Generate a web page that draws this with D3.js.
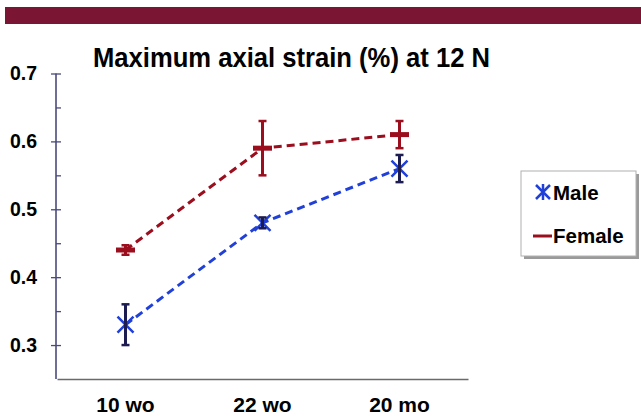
<!DOCTYPE html>
<html>
<head>
<meta charset="utf-8">
<script src="https://cdn.jsdelivr.net/npm/d3@7"></script>
<style>
  body { margin: 0; background: #fff; }
  svg { font-family: "Liberation Sans", Arial, sans-serif; }
</style>
</head>
<body>
<script>
// chart values
var categories = ["10 wo", "22 wo", "20 mo"];
var maleMean = [0.33, 0.48, 0.56];
var maleErr = [0.03, 0.008, 0.02];
var femaleMean = [0.44, 0.59, 0.61];
var femaleErr = [0.007, 0.04, 0.02];
var yTicks = [0.3, 0.4, 0.5, 0.6, 0.7];
var yMinor = [0.35, 0.45, 0.55, 0.65];

var W = 641, H = 416;
var maleColor = "#2040d8", maleBar = "#1c1c50";
var femaleColor = "#9a0e1e";

var svg = d3.select("body").append("svg")
  .attr("width", W)
  .attr("height", H);

// banner at the top
svg.append("rect")
  .attr("x", 5).attr("y", 7)
  .attr("width", 636).attr("height", 17)
  .attr("fill", "#7a1533");

var x = d3.scaleBand()
  .domain(categories)
  .range([57, 468]);

var y = d3.scaleLinear()
  .domain([0.25, 0.7])
  .range([379, 73.5]);

// title
svg.append("text")
  .attr("x", 93).attr("y", 67)
  .attr("font-size", 27)
  .attr("font-weight", "bold")
  .attr("textLength", 397)
  .attr("lengthAdjust", "spacingAndGlyphs")
  .text("Maximum axial strain (%) at 12 N");

// y axis: labels + left half of ticks
var yLeft = svg.append("g")
  .attr("transform", "translate(56,0)")
  .call(d3.axisLeft(y).tickValues(yTicks).tickSize(5).tickPadding(14).tickFormat(d3.format(".1f")));
yLeft.select(".domain").remove();
yLeft.selectAll("text").attr("font-size", 19.5).attr("font-weight", "bold").attr("fill", "#000")
  .attr("font-family", "Liberation Sans, Arial, sans-serif");

var yRight = svg.append("g")
  .attr("transform", "translate(56,0)")
  .call(d3.axisRight(y).tickValues(yTicks.concat(yMinor)).tickSize(5).tickFormat(""));
yRight.select(".domain").remove();

svg.selectAll(".tick line").attr("stroke", "#4a4a7c").attr("stroke-width", 1.3);

svg.append("line")
  .attr("x1", 56).attr("x2", 56)
  .attr("y1", y(0.7)).attr("y2", y(0.25))
  .attr("stroke", "#4a4a7c").attr("stroke-width", 1.6);

// x axis
var xAxis = svg.append("g")
  .attr("transform", "translate(0," + y(0.25) + ")")
  .call(d3.axisBottom(x).tickSize(0));
xAxis.select(".domain").attr("stroke", "#6a6a6a").attr("stroke-width", 1.6);
xAxis.selectAll("text")
  .attr("y", 33).attr("dy", 0)
  .attr("font-size", 21).attr("font-weight", "bold").attr("fill", "#000")
  .attr("font-family", "Liberation Sans, Arial, sans-serif");

function cx(i) { return x(categories[i]) + x.bandwidth() / 2; }

var line = d3.line()
  .x(function(d, i) { return cx(i); })
  .y(function(d) { return y(d); });

// dashed series lines
svg.append("path")
  .attr("d", line(femaleMean))
  .attr("fill", "none")
  .attr("stroke", femaleColor)
  .attr("stroke-width", 3)
  .attr("stroke-dasharray", "8,5");

svg.append("path")
  .attr("d", line(maleMean))
  .attr("fill", "none")
  .attr("stroke", maleColor)
  .attr("stroke-width", 3)
  .attr("stroke-dasharray", "8,5");

// error bars
function errBars(mean, err, color) {
  var g = svg.append("g");
  mean.forEach(function(m, i) {
    var px = cx(i);
    g.append("line")
      .attr("x1", px).attr("x2", px)
      .attr("y1", y(m + err[i])).attr("y2", y(m - err[i]))
      .attr("stroke", color).attr("stroke-width", 3);
    [m + err[i], m - err[i]].forEach(function(v) {
      g.append("line")
        .attr("x1", px - 4).attr("x2", px + 4)
        .attr("y1", y(v)).attr("y2", y(v))
        .attr("stroke", color).attr("stroke-width", 2.5);
    });
  });
}

// female dash markers
errBars(femaleMean, femaleErr, femaleColor);
svg.selectAll(".fmark")
  .data(femaleMean)
  .enter()
  .append("rect")
  .attr("x", function(d, i) { return cx(i) - 9.5; })
  .attr("y", function(d) { return y(d) - 2.5; })
  .attr("width", 19).attr("height", 5)
  .attr("fill", femaleColor);

// male star markers
function star(g, px, py, s) {
  g.append("path")
    .attr("d", "M" + (px - s) + "," + (py - s) + "L" + (px + s) + "," + (py + s) +
               "M" + (px - s) + "," + (py + s) + "L" + (px + s) + "," + (py - s))
    .attr("stroke", maleColor).attr("stroke-width", 2.5).attr("fill", "none");
}
var mg = svg.append("g");
maleMean.forEach(function(m, i) { star(mg, cx(i), y(m), 8); });
errBars(maleMean, maleErr, maleBar);

// legend
svg.append("rect")
  .attr("x", 524).attr("y", 174)
  .attr("width", 115).attr("height", 85)
  .attr("fill", "#9a9a9a");
svg.append("rect")
  .attr("x", 521).attr("y", 171)
  .attr("width", 115).attr("height", 85)
  .attr("fill", "#fff")
  .attr("stroke", "#b0b0b0").attr("stroke-width", 1);

var lg = svg.append("g");
star(lg, 543, 192, 7);
lg.append("line")
  .attr("x1", 543).attr("x2", 543).attr("y1", 184).attr("y2", 200)
  .attr("stroke", maleColor).attr("stroke-width", 2.5);
lg.append("line")
  .attr("x1", 533).attr("x2", 552).attr("y1", 236).attr("y2", 236)
  .attr("stroke", femaleColor).attr("stroke-width", 3);

var legendLabels = ["Male", "Female"];
lg.selectAll("text")
  .data(legendLabels)
  .enter()
  .append("text")
  .attr("x", 553)
  .attr("y", function(d, i) { return 200 + i * 43; })
  .attr("font-size", 20.5)
  .attr("font-weight", "bold")
  .text(function(d) { return d; });
</script>
</body>
</html>
